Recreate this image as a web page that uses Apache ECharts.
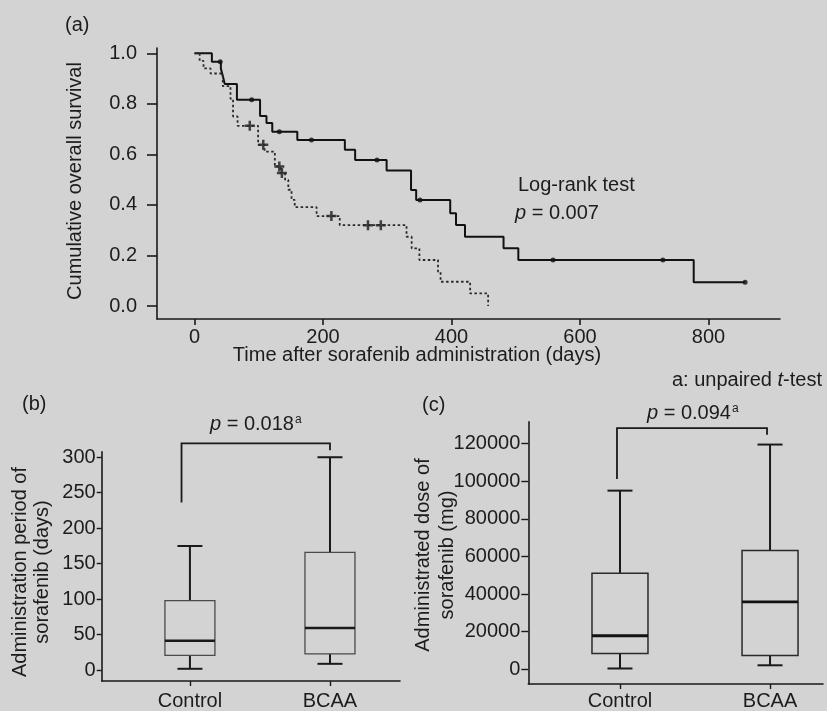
<!DOCTYPE html>
<html><head><meta charset="utf-8">
<script src="https://cdn.jsdelivr.net/npm/echarts@6/dist/echarts.min.js"></script>
<style>html,body{margin:0;padding:0;background:#d3d3d3}#c{width:827px;height:711px}</style>
</head><body><div id="c"></div>
<script>
// ---- Panel (a) Kaplan-Meier data ----
const survTicks = [0, 0.2, 0.4, 0.6, 0.8, 1.0];
const dayTicks = [0, 200, 400, 600, 800];
const bcaaDays = [0, 27, 41, 43, 45, 47, 66, 102, 112, 121, 160, 234, 250, 299, 337, 345, 398, 407, 421, 481, 504, 777, 857];
const bcaaSurv = [1.0, 0.967, 0.94, 0.92, 0.90, 0.879, 0.816, 0.752, 0.724, 0.69, 0.657, 0.618, 0.578, 0.536, 0.459, 0.42, 0.367, 0.321, 0.274, 0.229, 0.182, 0.094, 0.094];
const ctrlDays = [0, 8, 14, 25, 44, 56, 60, 67, 99, 109, 125, 134, 141, 146, 151, 156, 190, 226, 330, 338, 350, 379, 383, 429, 457];
const ctrlSurv = [1.0, 0.97, 0.94, 0.92, 0.87, 0.82, 0.75, 0.713, 0.638, 0.611, 0.552, 0.526, 0.499, 0.46, 0.42, 0.391, 0.356, 0.32, 0.274, 0.228, 0.182, 0.136, 0.096, 0.05, 0.0];
const bcaaCensor = [40, 89, 132, 182, 284, 351, 558, 729, 857];
const ctrlCensor = [86, 107, 132, 136, 213, 270, 290];

// ---- Panels (b), (c) box data ----
const groups = ['Control', 'BCAA'];
const periodTicks = [0, 50, 100, 150, 200, 250, 300];
const periodMin = [2, 9];
const periodQ1 = [21, 23];
const periodMed = [41.5, 59.5];
const periodQ3 = [98, 166];
const periodMax = [175, 300];
const doseTicks = [0, 20000, 40000, 60000, 80000, 100000, 120000];
const doseMin = [400, 2100];
const doseQ1 = [8400, 7300];
const doseMed = [17800, 35800];
const doseQ3 = [51000, 63100];
const doseMax = [95000, 119500];

const FONT = 'Liberation Sans';
const TXT = '#1c1c1c';
const FS = 20;

function stepLookup(days, surv, t) {
  let v = surv[0];
  for (let i = 0; i < days.length; i++) { if (days[i] <= t) v = surv[i]; }
  return v;
}
const zip = (a, b) => a.map((v, i) => [v, b[i]]);

function boxRows(mn, q1, md, q3, mx) {
  return groups.map((g, i) => [i, mn[i], q1[i], md[i], q3[i], mx[i]]);
}

function makeBoxRenderer(s) {
  return function (params, api) {
    const x = api.value(0);
    const p = k => api.coord([x, api.value(k)]);
    const lo = p(1), q1 = p(2), md = p(3), q3 = p(4), hi = p(5);
    const cx = lo[0];
    const ln = (x1, y1, x2, y2, st) => ({ type: 'line', shape: { x1, y1, x2, y2 }, style: st });
    return { type: 'group', children: [
      ln(cx, hi[1], cx, q3[1], s.whisker),
      ln(cx, q1[1], cx, lo[1], s.whisker),
      ln(cx - s.cap, hi[1], cx + s.cap, hi[1], s.whisker),
      ln(cx - s.cap, lo[1], cx + s.cap, lo[1], s.whisker),
      { type: 'rect', shape: { x: cx - s.half, y: q3[1], width: 2 * s.half, height: q1[1] - q3[1] }, style: s.box },
      ln(cx - s.half, md[1], cx + s.half, md[1], s.median)
    ] };
  };
}

function bracketRenderer(params, api) {
  const xl = api.value(0), xr = api.value(1), yt = api.value(2), yl = api.value(3), yr = api.value(4);
  const pts = [api.coord([xl, yl]), api.coord([xl, yt]), api.coord([xr, yt]), api.coord([xr, yr])];
  return { type: 'polyline', shape: { points: pts }, style: { stroke: '#1a1a1a', lineWidth: 1.8, fill: null } };
}

const axisLineStyle = { show: true, onZero: false, lineStyle: { color: '#1a1a1a', width: 1.6 } };
const lbl = (extra) => Object.assign({ color: TXT, fontFamily: FONT, fontSize: FS }, extra);

const chart = echarts.init(document.getElementById('c'), null, { renderer: 'canvas' });

const option = {
  backgroundColor: '#d3d3d3',
  animation: false,
  textStyle: { fontFamily: FONT },
  grid: [
    { left: 157, top: 48, width: 623, height: 271 },
    { left: 101.7, top: 451.7, width: 298.3, height: 233.3 },
    { left: 528.3, top: 421.7, width: 294.7, height: 266.6 }
  ],
  xAxis: [
    { type: 'value', gridIndex: 0, min: -58.4, max: 911.3, splitLine: { show: false },
      axisLine: axisLineStyle,
      axisTick: { show: true, customValues: dayTicks, length: 6, lineStyle: { color: '#1a1a1a', width: 1.6 } },
      axisLabel: lbl({ customValues: dayTicks, margin: 8 }) },
    { type: 'value', gridIndex: 1, min: -0.63, max: 1.5, splitLine: { show: false },
      axisLine: axisLineStyle,
      axisTick: { show: true, customValues: [0, 1], length: 5, lineStyle: { color: '#1a1a1a', width: 1.4 } },
      axisLabel: lbl({ customValues: [0, 1], margin: 10, formatter: v => groups[Math.round(v)] }) },
    { type: 'value', gridIndex: 2, min: -0.611, max: 1.353, splitLine: { show: false },
      axisLine: axisLineStyle,
      axisTick: { show: true, customValues: [0, 1], length: 5, lineStyle: { color: '#1a1a1a', width: 1.4 } },
      axisLabel: lbl({ customValues: [0, 1], margin: 7, formatter: v => groups[Math.round(v)] }) }
  ],
  yAxis: [
    { type: 'value', gridIndex: 0, min: -0.0514, max: 1.021, splitLine: { show: false },
      axisLine: axisLineStyle,
      axisTick: { show: true, customValues: survTicks, length: 10, lineStyle: { color: '#1a1a1a', width: 1.6 } },
      axisLabel: lbl({ customValues: survTicks, margin: 20, formatter: v => v.toFixed(1) }) },
    { type: 'value', gridIndex: 1, min: -15.2, max: 307.8, splitLine: { show: false },
      axisLine: axisLineStyle,
      axisTick: { show: true, customValues: periodTicks, length: 5, lineStyle: { color: '#1a1a1a', width: 1.4 } },
      axisLabel: lbl({ customValues: periodTicks, margin: 6, formatter: v => String(v) }) },
    { type: 'value', gridIndex: 2, min: -7850, max: 131660, splitLine: { show: false },
      axisLine: axisLineStyle,
      axisTick: { show: true, customValues: doseTicks, length: 7, lineStyle: { color: '#1a1a1a', width: 1.4 } },
      axisLabel: lbl({ customValues: doseTicks, margin: 8, formatter: v => String(v) }) }
  ],
  series: [
    { name: 'BCAA', type: 'line', xAxisIndex: 0, yAxisIndex: 0, step: 'end', showSymbol: false,
      data: zip(bcaaDays, bcaaSurv), lineStyle: { color: '#111', width: 2 }, silent: true },
    { name: 'Control', type: 'line', xAxisIndex: 0, yAxisIndex: 0, step: 'end', showSymbol: false,
      data: zip(ctrlDays, ctrlSurv), lineStyle: { color: '#2a2a2a', width: 1.8, type: [2.5, 2.5] }, silent: true },
    { type: 'scatter', xAxisIndex: 0, yAxisIndex: 0, symbol: 'circle', symbolSize: 5,
      itemStyle: { color: '#111' }, silent: true,
      data: bcaaCensor.map(t => [t, stepLookup(bcaaDays, bcaaSurv, t)]) },
    { type: 'scatter', xAxisIndex: 0, yAxisIndex: 0,
      symbol: 'path://M3,0h2v3h3v2h-3v3h-2v-3h-3v-2h3z', symbolSize: [10, 10],
      itemStyle: { color: '#1a1a1a' }, silent: true,
      data: ctrlCensor.map(t => [t, stepLookup(ctrlDays, ctrlSurv, t)]) },
    { type: 'custom', xAxisIndex: 1, yAxisIndex: 1, silent: true,
      renderItem: makeBoxRenderer({ half: 25, cap: 12.5,
        whisker: { stroke: '#1a1a1a', lineWidth: 2 },
        box: { stroke: '#4a4a4a', lineWidth: 1.3, fill: 'none' },
        median: { stroke: '#1a1a1a', lineWidth: 2.5 } }),
      data: boxRows(periodMin, periodQ1, periodMed, periodQ3, periodMax) },
    { type: 'custom', xAxisIndex: 2, yAxisIndex: 2, silent: true,
      renderItem: makeBoxRenderer({ half: 28, cap: 12.5,
        whisker: { stroke: '#1a1a1a', lineWidth: 2 },
        box: { stroke: '#2a2a2a', lineWidth: 1.5, fill: 'none' },
        median: { stroke: '#111', lineWidth: 2.8 } }),
      data: boxRows(doseMin, doseQ1, doseMed, doseQ3, doseMax) },
    { type: 'custom', xAxisIndex: 1, yAxisIndex: 1, silent: true, clip: false,
      renderItem: bracketRenderer, data: [[-0.06, 1.0, 319.4, 236.4, 310]] },
    { type: 'custom', xAxisIndex: 2, yAxisIndex: 2, silent: true, clip: false,
      renderItem: bracketRenderer, data: [[-0.02, 0.98, 128200, 101150, 124700]] }
  ],
  graphic: (function () {
    const t = (x, y, text, o) => Object.assign({ type: 'text', x, y, silent: true,
      style: Object.assign({ text, fill: TXT, fontFamily: FONT, fontSize: FS,
        align: 'left', textAlign: 'left', verticalAlign: 'middle', textVerticalAlign: 'middle' }, (o && o.style) || {}) },
      (o && o.el) || {});
    const rich = {
      i: { fontStyle: 'italic', fontSize: FS, fontFamily: FONT, fill: TXT },
      s: { fontSize: 12, fontFamily: FONT, fill: TXT, verticalAlign: 'top', padding: [0, 0, 8, 1] }
    };
    const center = { align: 'center', textAlign: 'center' };
    return [
      t(65, 25, '(a)'),
      t(518, 185, 'Log-rank test'),
      t(515, 213, '{i|p} = 0.007', { style: { rich } }),
      t(417, 355, 'Time after sorafenib administration (days)', { style: center }),
      t(75, 181, 'Cumulative overall survival', { style: center, el: { rotation: Math.PI / 2 } }),
      t(22, 404, '(b)'),
      t(210, 424, '{i|p} = 0.018{s|a}', { style: { rich } }),
      t(31, 572, 'Administration period of\nsorafenib (days)', { style: Object.assign({ lineHeight: 22 }, center), el: { rotation: Math.PI / 2 } }),
      t(422, 405, '(c)'),
      t(647, 413, '{i|p} = 0.094{s|a}', { style: { rich } }),
      t(822, 380, 'a: unpaired {i|t}-test', { style: { rich, align: 'right', textAlign: 'right' } }),
      t(435, 555, 'Administrated dose of\nsorafenib (mg)', { style: Object.assign({ lineHeight: 24 }, center), el: { rotation: Math.PI / 2 } })
    ];
  })()
};
chart.setOption(option);
</script></body></html>
